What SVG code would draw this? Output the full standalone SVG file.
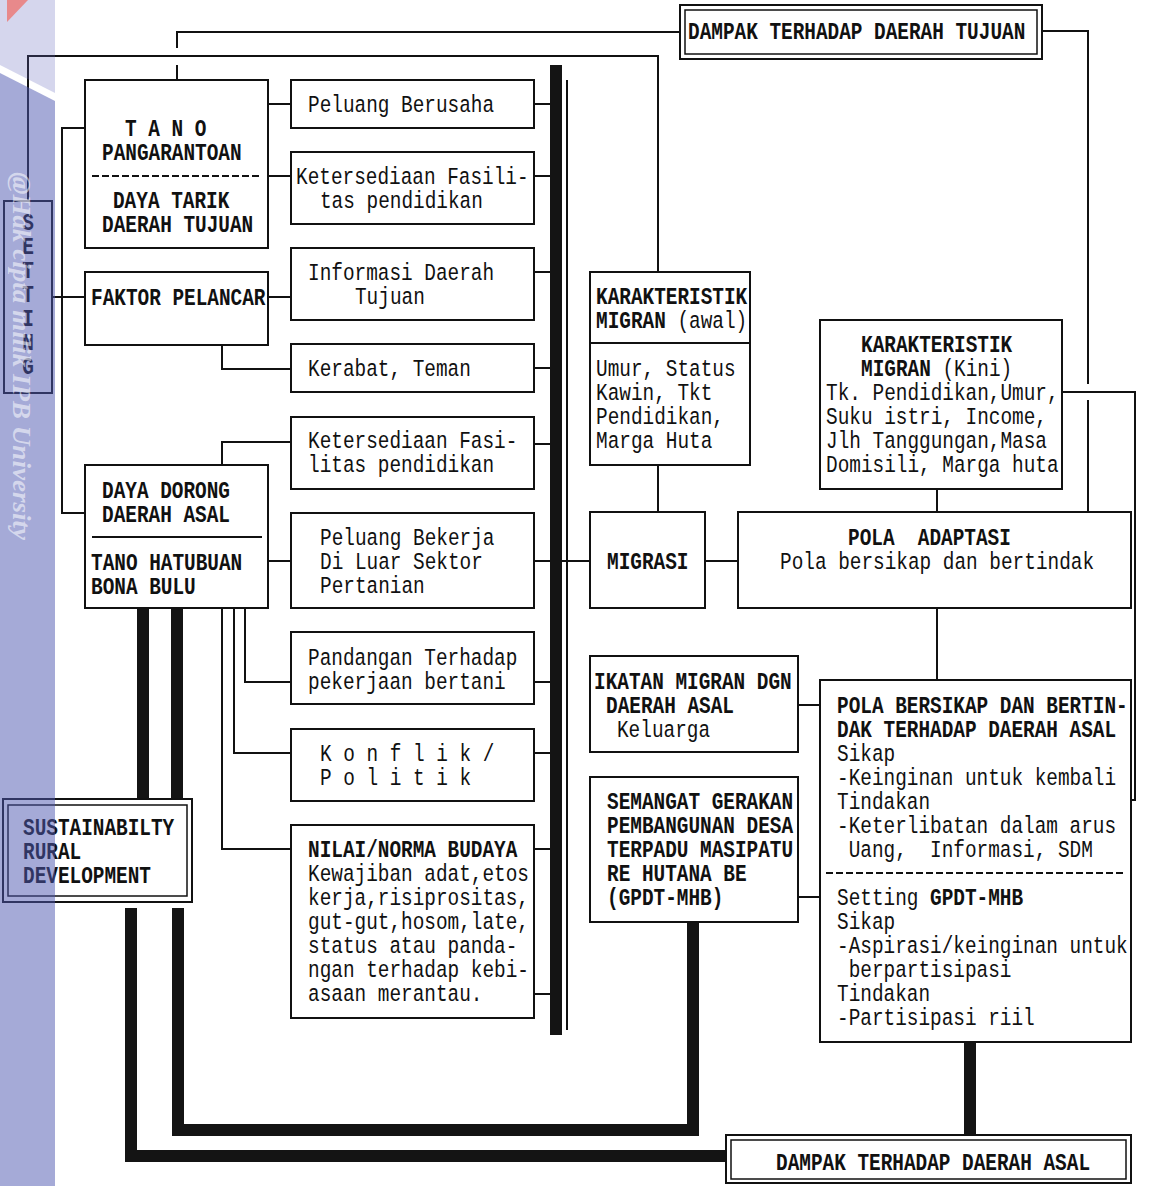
<svg xmlns="http://www.w3.org/2000/svg" width="1157" height="1186" viewBox="0 0 1157 1186">
<defs>
<style>
.bx{fill:#fff;stroke:#111;stroke-width:2}
.bi{fill:none;stroke:#111;stroke-width:1.5}
.ln{fill:none;stroke:#111;stroke-width:2}
.dash{fill:none;stroke:#111;stroke-width:2;stroke-dasharray:7 3}
.thk{fill:#141414}
.t{font-family:"Liberation Mono","Courier New",monospace;font-size:19.4px;fill:#111;white-space:pre}
.b{font-weight:bold}
.wm{font-family:"Liberation Serif","Times New Roman",serif;font-style:italic;font-weight:bold;font-size:26px;fill:#fff;fill-opacity:0.55}
</style>
</defs>
<rect width="1157" height="1186" fill="#fff"/>

<g id="connectors">
<path class="ln" d="M28 201V56H658V272"/>
<path class="ln" d="M177 80V65M177 48V32H680"/>
<path class="ln" d="M1042 31H1088V384M1088 400V512"/>
<path class="ln" d="M1062 392H1135V800H1131"/>
<path class="ln" d="M85 128H62V513H85"/>
<path class="ln" d="M52 297H85"/>
<path class="ln" d="M268 104H291M268 176H291M268 297H291M268 561H291"/>
<path class="ln" d="M222 345V369H291M222 465V442H291"/>
<path class="ln" d="M245 608V682H291M234 608V753H291M222 608V849H291"/>
<path class="ln" d="M534 104H551M534 176H551M534 272H551M534 368H551M534 444H551M534 561H551M534 682H551M534 753H551M534 849H551M534 994H551"/>
<path class="ln" d="M567 80V1030M562 561H590"/>
<path class="ln" d="M658 465V512M705 561H738M937 489V512M937 608V680M798 705H820M798 897H820"/>
<rect class="thk" x="550" y="65" width="12" height="970"/>
<rect class="thk" x="137" y="608" width="12" height="191"/>
<rect class="thk" x="171" y="608" width="12" height="191"/>
<path class="thk" d="M125 908H137V1150H726V1162H125Z"/>
<path class="thk" d="M172 908H184V1124H687V922H699V1136H172Z"/>
<rect class="thk" x="964" y="1042" width="12" height="93"/>
</g>

<g id="n-dampak-tujuan">
<rect class="bx" x="680" y="5" width="362" height="54"/>
<rect class="bi" x="685" y="10" width="352" height="44"/>
<text class="t b" transform="translate(688 39) scale(1 1.2)">DAMPAK TERHADAP DAERAH TUJUAN</text>
</g>

<g id="n-tano">
<rect class="bx" x="85" y="80" width="183" height="168"/>
<line class="dash" x1="92" y1="176" x2="262" y2="176"/>
<text class="t b" transform="translate(102 136) scale(1 1.2)"><tspan x="23" y="0">T A N O</tspan><tspan x="0" y="20">PANGARANTOAN</tspan></text>
<text class="t b" transform="translate(102 208) scale(1 1.2)"><tspan x="11" y="0">DAYA TARIK</tspan><tspan x="0" y="20">DAERAH TUJUAN</tspan></text>
</g>

<g id="n-faktor">
<rect class="bx" x="85" y="272" width="183" height="73"/>
<text class="t b" transform="translate(91 305) scale(1 1.2)">FAKTOR PELANCAR</text>
</g>

<g id="n-setting">
<rect class="bx" x="4" y="201" width="48" height="192"/>
<text class="t b" text-anchor="middle" transform="translate(28 230) scale(1 1.2)"><tspan x="0" y="0">S</tspan><tspan x="0" y="20">E</tspan><tspan x="0" y="40">T</tspan><tspan x="0" y="60">T</tspan><tspan x="0" y="80">I</tspan><tspan x="0" y="100">N</tspan><tspan x="0" y="120">G</tspan></text>
</g>

<g id="n-daya-dorong">
<rect class="bx" x="85" y="465" width="183" height="143"/>
<line class="ln" x1="92" y1="537" x2="262" y2="537"/>
<text class="t b" transform="translate(102 498) scale(1 1.2)"><tspan x="0" y="0">DAYA DORONG</tspan><tspan x="0" y="20">DAERAH ASAL</tspan></text>
<text class="t b" transform="translate(91 570) scale(1 1.2)"><tspan x="0" y="0">TANO HATUBUAN</tspan><tspan x="0" y="20">BONA BULU</tspan></text>
</g>

<g id="n-sustainability">
<rect class="bx" x="3" y="799" width="189" height="103"/>
<rect class="bi" x="8" y="805" width="179" height="91"/>
<text class="t b" transform="translate(23 835) scale(1 1.2)"><tspan x="0" y="0">SUSTAINABILTY</tspan><tspan x="0" y="20">RURAL</tspan><tspan x="0" y="40">DEVELOPMENT</tspan></text>
</g>

<g id="n-peluang-berusaha">
<rect class="bx" x="291" y="80" width="243" height="48"/>
<text class="t" transform="translate(308 112) scale(1 1.2)">Peluang Berusaha</text>
</g>
<g id="n-fasilitas-1">
<rect class="bx" x="291" y="152" width="243" height="72"/>
<text class="t" transform="translate(296 184) scale(1 1.2)"><tspan x="0" y="0">Ketersediaan Fasili-</tspan><tspan x="24" y="20">tas pendidikan</tspan></text>
</g>
<g id="n-informasi">
<rect class="bx" x="291" y="248" width="243" height="72"/>
<text class="t" transform="translate(308 280) scale(1 1.2)"><tspan x="0" y="0">Informasi Daerah</tspan><tspan x="47" y="20">Tujuan</tspan></text>
</g>
<g id="n-kerabat">
<rect class="bx" x="291" y="344" width="243" height="48"/>
<text class="t" transform="translate(308 376) scale(1 1.2)">Kerabat, Teman</text>
</g>
<g id="n-fasilitas-2">
<rect class="bx" x="291" y="417" width="243" height="72"/>
<text class="t" transform="translate(308 448) scale(1 1.2)"><tspan x="0" y="0">Ketersediaan Fasi-</tspan><tspan x="0" y="20">litas pendidikan</tspan></text>
</g>
<g id="n-peluang-bekerja">
<rect class="bx" x="291" y="513" width="243" height="95"/>
<text class="t" transform="translate(320 545) scale(1 1.2)"><tspan x="0" y="0">Peluang Bekerja</tspan><tspan x="0" y="20">Di Luar Sektor</tspan><tspan x="0" y="40">Pertanian</tspan></text>
</g>
<g id="n-pandangan">
<rect class="bx" x="291" y="632" width="243" height="72"/>
<text class="t" transform="translate(308 665) scale(1 1.2)"><tspan x="0" y="0">Pandangan Terhadap</tspan><tspan x="0" y="20">pekerjaan bertani</tspan></text>
</g>
<g id="n-konflik">
<rect class="bx" x="291" y="729" width="243" height="72"/>
<text class="t" transform="translate(320 761) scale(1 1.2)"><tspan x="0" y="0">K o n f l i k /</tspan><tspan x="0" y="20">P o l i t i k</tspan></text>
</g>
<g id="n-nilai">
<rect class="bx" x="291" y="825" width="243" height="193"/>
<text class="t" transform="translate(308 857) scale(1 1.2)"><tspan x="0" y="0" class="b">NILAI/NORMA BUDAYA</tspan><tspan x="0" y="20">Kewajiban adat,etos</tspan><tspan x="0" y="40">kerja,risiprositas,</tspan><tspan x="0" y="60">gut-gut,hosom,late,</tspan><tspan x="0" y="80">status atau panda-</tspan><tspan x="0" y="100">ngan terhadap kebi-</tspan><tspan x="0" y="120">asaan merantau.</tspan></text>
</g>

<g id="n-karakteristik-awal">
<rect class="bx" x="590" y="272" width="160" height="193"/>
<line class="ln" x1="590" y1="343" x2="750" y2="343"/>
<text class="t" transform="translate(596 304) scale(1 1.2)"><tspan x="0" y="0" class="b">KARAKTERISTIK</tspan><tspan x="0" y="20"><tspan class="b">MIGRAN</tspan> (awal)</tspan><tspan x="0" y="60">Umur, Status</tspan><tspan x="0" y="80">Kawin, Tkt</tspan><tspan x="0" y="100">Pendidikan,</tspan><tspan x="0" y="120">Marga Huta</tspan></text>
</g>

<g id="n-migrasi">
<rect class="bx" x="590" y="512" width="115" height="96"/>
<text class="t b" transform="translate(607 569) scale(1 1.2)">MIGRASI</text>
</g>

<g id="n-karakteristik-kini">
<rect class="bx" x="820" y="320" width="242" height="169"/>
<text class="t" transform="translate(826 352) scale(1 1.2)"><tspan x="35" y="0" class="b">KARAKTERISTIK</tspan><tspan x="35" y="20"><tspan class="b">MIGRAN</tspan> (Kini)</tspan><tspan x="0" y="40">Tk. Pendidikan,Umur,</tspan><tspan x="0" y="60">Suku istri, Income,</tspan><tspan x="0" y="80">Jlh Tanggungan,Masa</tspan><tspan x="0" y="100">Domisili, Marga huta</tspan></text>
</g>

<g id="n-pola-adaptasi">
<rect class="bx" x="738" y="512" width="393" height="96"/>
<text class="t" transform="translate(848 545) scale(1 1.2)"><tspan x="0" y="0" class="b">POLA  ADAPTASI</tspan><tspan x="-68" y="20">Pola bersikap dan bertindak</tspan></text>
</g>

<g id="n-ikatan">
<rect class="bx" x="590" y="656" width="208" height="96"/>
<text class="t" transform="translate(594 689) scale(1 1.2)"><tspan x="0" y="0" class="b">IKATAN MIGRAN DGN</tspan><tspan x="12" y="20" class="b">DAERAH ASAL</tspan><tspan x="23" y="40">Keluarga</tspan></text>
</g>

<g id="n-semangat">
<rect class="bx" x="590" y="777" width="208" height="145"/>
<text class="t b" transform="translate(607 809) scale(1 1.2)"><tspan x="0" y="0">SEMANGAT GERAKAN</tspan><tspan x="0" y="20">PEMBANGUNAN DESA</tspan><tspan x="0" y="40">TERPADU MASIPATU</tspan><tspan x="0" y="60">RE HUTANA BE</tspan><tspan x="0" y="80">(GPDT-MHB)</tspan></text>
</g>

<g id="n-pola-bersikap">
<rect class="bx" x="820" y="680" width="311" height="362"/>
<line class="dash" x1="826" y1="873" x2="1124" y2="873"/>
<text class="t" transform="translate(837 713) scale(1 1.2)"><tspan x="0" y="0" class="b">POLA BERSIKAP DAN BERTIN-</tspan><tspan x="0" y="20" class="b">DAK TERHADAP DAERAH ASAL</tspan><tspan x="0" y="40">Sikap</tspan><tspan x="0" y="60">-Keinginan untuk kembali</tspan><tspan x="0" y="80">Tindakan</tspan><tspan x="0" y="100">-Keterlibatan dalam arus</tspan><tspan x="0" y="120"> Uang,  Informasi, SDM</tspan></text>
<text class="t" transform="translate(837 905) scale(1 1.2)"><tspan x="0" y="0">Setting <tspan class="b">GPDT-MHB</tspan></tspan><tspan x="0" y="20">Sikap</tspan><tspan x="0" y="40">-Aspirasi/keinginan untuk</tspan><tspan x="0" y="60"> berpartisipasi</tspan><tspan x="0" y="80">Tindakan</tspan><tspan x="0" y="100">-Partisipasi riil</tspan></text>
</g>

<g id="n-dampak-asal">
<rect class="bx" x="726" y="1135" width="405" height="48"/>
<rect class="bi" x="731" y="1140" width="395" height="39"/>
<text class="t b" transform="translate(776 1170) scale(1 1.2)">DAMPAK TERHADAP DAERAH ASAL</text>
</g>

<g id="watermark">
<path d="M0 73L55 101V1186H0Z" fill="rgb(78,88,176)" fill-opacity="0.51"/>
<path d="M0 0H55V93L0 65Z" fill="rgb(100,105,190)" fill-opacity="0.27"/>
<polygon points="7,0 28,0 7,22" fill="#e8898b"/>
<text class="wm" transform="translate(13 172) rotate(90)" textLength="368" lengthAdjust="spacingAndGlyphs">@Hak cipta milik IPB University</text>
</g>
</svg>
